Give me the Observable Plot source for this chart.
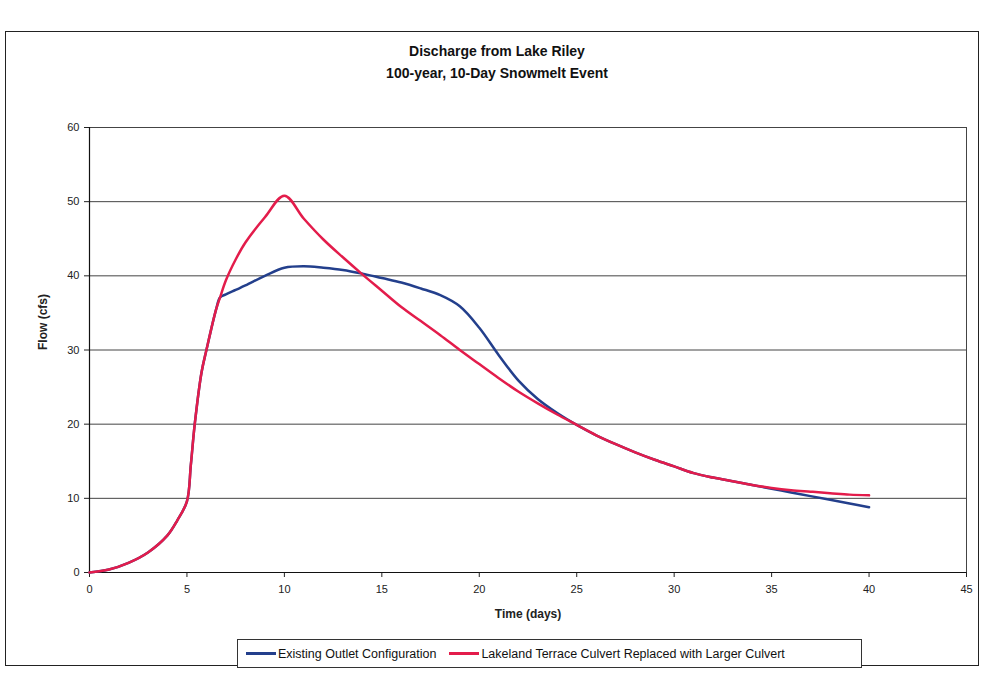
<!DOCTYPE html>
<html>
<head>
<meta charset="utf-8">
<script src="https://cdn.jsdelivr.net/npm/d3@7"></script>
<script src="https://cdn.jsdelivr.net/npm/@observablehq/plot@0.6"></script>
<style>
  html, body { margin: 0; padding: 0; background: #fff; }
  #chart { position: relative; width: 987px; height: 684px; overflow: hidden;
           font-family: "Liberation Sans", Arial, Helvetica, sans-serif; color: #111; }
  #frame { position: absolute; left: 5px; top: 31px; width: 974px; height: 635px;
           border: 1.5px solid #222; box-sizing: border-box; }
  #title { position: absolute; left: 0; top: 40px; width: 994px; text-align: center;
           font-weight: bold; font-size: 14px; line-height: 22px; }
  #plot { position: absolute; left: 0; top: 0; }
  #legend { position: absolute; left: 237px; top: 639px; width: 625px; height: 29px;
            border: 1px solid #333; box-sizing: border-box; display: flex; align-items: center;
            font-size: 12.5px; white-space: nowrap; background: #fff; }
  .item { display: flex; align-items: center; }
  .swatch { display: inline-block; width: 30px; height: 2.5px; margin-right: 2px; }
</style>
</head>
<body>
<div id="chart">
  <div id="frame"></div>
  <div id="plot"></div>
  <div id="title">Discharge from Lake Riley<br>100-year, 10-Day Snowmelt Event</div>
  <div id="legend"></div>
</div>
<script>
// Time steps (days) shared by both simulated hydrographs
const days = [0, 1, 2, 3, 4, 4.5, 5, 5.2, 5.4, 5.75, 6, 6.5, 6.7, 7, 7.5, 8, 9, 10, 11, 12, 13, 14, 15,
  16, 17, 18, 19, 20, 21, 22, 23, 24, 25, 26, 27, 28, 29, 30, 31, 32, 33, 34, 35, 36, 37, 38, 39, 40];

// Outflow (cfs) with the existing outlet
const existingFlow = [0, 0.4, 1.3, 2.7, 5.0, 7.0, 9.6, 14.5, 20, 27, 30, 35.5, 37.1, 37.5, 38.1, 38.7,
  40, 41.1, 41.3, 41.1, 40.8, 40.3, 39.7, 39.1, 38.3, 37.4, 35.9, 33, 29.3, 25.9, 23.4, 21.5, 19.9,
  18.5, 17.3, 16.2, 15.2, 14.3, 13.4, 12.8, 12.3, 11.8, 11.3, 10.8, 10.3, 9.8, 9.3, 8.8];

// Outflow (cfs) with the Lakeland Terrace culvert enlarged
const largerCulvertFlow = [0, 0.4, 1.3, 2.7, 5.0, 7.0, 9.6, 14.5, 20, 27, 30, 35.5, 37.1, 39.4, 42.2, 44.5,
  47.9, 50.8, 47.7, 44.9, 42.5, 40.2, 38, 35.8, 33.9, 32, 30, 28.1, 26.2, 24.4, 22.8, 21.3, 19.9,
  18.5, 17.3, 16.2, 15.2, 14.3, 13.4, 12.8, 12.3, 11.8, 11.4, 11.1, 10.9, 10.7, 10.5, 10.4];

const seriesNames = ["Existing Outlet Configuration", "Lakeland Terrace Culvert Replaced with Larger Culvert"];
const seriesColors = ["#233f8c", "#e31c4b"];
const xTicks = [0, 5, 10, 15, 20, 25, 30, 35, 40, 45];
const yTicks = [0, 10, 20, 30, 40, 50, 60];

const rows = [existingFlow, largerCulvertFlow].flatMap((flows, s) =>
  days.map((d, i) => ({day: d, flow: flows[i], series: seriesNames[s]})));

const chart = Plot.plot({
  width: 987,
  height: 684,
  marginLeft: 89,
  marginRight: 21,
  marginTop: 127,
  marginBottom: 112,
  style: {fontFamily: "'Liberation Sans', Arial, sans-serif", fontSize: "11px", color: "#222", background: "transparent"},
  x: {domain: [0, 45]},
  y: {domain: [0, 60]},
  color: {domain: seriesNames, range: seriesColors},
  marks: [
    Plot.gridY(yTicks, {stroke: "#444", strokeOpacity: 1, strokeWidth: 1}),
    Plot.ruleX([45], {stroke: "#444", strokeWidth: 1}),
    Plot.axisY(yTicks, {tickSize: 5, tickPadding: 5, label: null, stroke: "#222"}),
    Plot.axisX(xTicks, {tickSize: 5, tickPadding: 8, label: null, stroke: "#222"}),
    Plot.ruleX([0], {stroke: "#111", strokeWidth: 1.2}),
    Plot.ruleY([0], {stroke: "#111", strokeWidth: 1.2}),
    Plot.line(rows, {x: "day", y: "flow", z: "series", stroke: "series",
      strokeWidth: 2.5, curve: "catmull-rom"}),
    Plot.text(["Time (days)"], {frameAnchor: "bottom", dy: 45, fontWeight: "bold", fontSize: 12}),
    Plot.text(["Flow (cfs)"], {frameAnchor: "left", dx: -46, rotate: -90, fontWeight: "bold", fontSize: 12})
  ]
});
document.getElementById("plot").appendChild(chart);

const legend = document.getElementById("legend");
seriesNames.forEach((name, i) => {
  const item = document.createElement("span");
  item.className = "item";
  item.style.marginLeft = i === 0 ? "8px" : "13px";
  const sw = document.createElement("span");
  sw.className = "swatch";
  sw.style.background = seriesColors[i];
  item.appendChild(sw);
  item.appendChild(document.createTextNode(name));
  legend.appendChild(item);
});
</script>
</body>
</html>
